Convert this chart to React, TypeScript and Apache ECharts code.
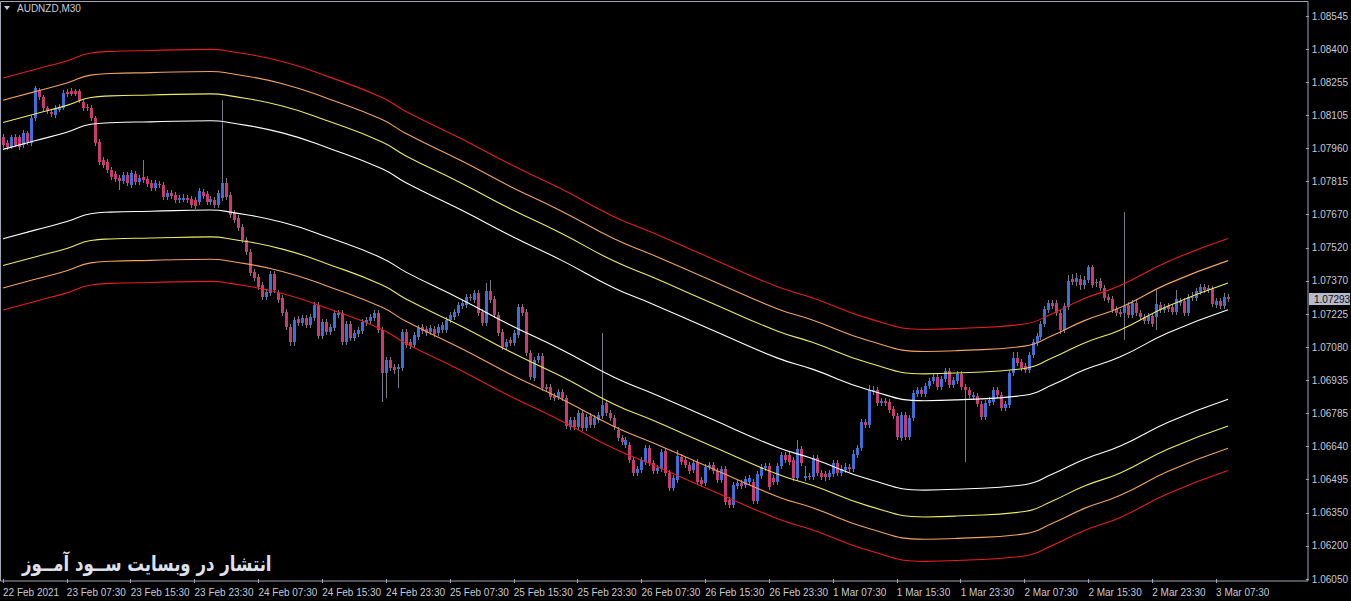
import React, { useEffect, useRef } from "react";
import * as echarts from "echarts";

// ---- Data (AUDNZD, M30) ----
const opens = [
1.08009,1.07983,1.07965,1.08009,1.08009,1.07974,1.08027,1.07983,1.08094,1.08217,
1.08186,1.08138,1.08120,1.08107,1.08129,1.08138,1.08208,1.08213,1.08213,1.08213,
1.08164,1.08142,1.08138,1.08094,1.07987,1.07907,1.07898,1.07863,1.07845,1.07828,
1.07814,1.07841,1.07796,1.07845,1.07809,1.07832,1.07823,1.07805,1.07783,1.07800,
1.07796,1.07743,1.07761,1.07752,1.07730,1.07730,1.07739,1.07734,1.07730,1.07721,
1.07765,1.07756,1.07721,1.07730,1.07708,1.07739,1.07805,1.07752,1.07672,1.07650,
1.07610,1.07552,1.07499,1.07410,1.07388,1.07353,1.07300,1.07318,1.07401,1.07318,
1.07296,1.07233,1.07167,1.07100,1.07202,1.07185,1.07207,1.07176,1.07207,1.07264,
1.07127,1.07189,1.07145,1.07162,1.07220,1.07229,1.07100,1.07180,1.07118,1.07136,
1.07149,1.07185,1.07194,1.07207,1.07229,1.07154,1.06963,1.07021,1.06989,1.06980,
1.06985,1.07145,1.07100,1.07087,1.07122,1.07167,1.07158,1.07145,1.07158,1.07140,
1.07154,1.07154,1.07198,1.07211,1.07229,1.07260,1.07264,1.07300,1.07287,1.07318,
1.07233,1.07185,1.07327,1.07291,1.07220,1.07145,1.07078,1.07109,1.07096,1.07131,
1.07256,1.07233,1.07052,1.06941,1.07021,1.07038,1.06901,1.06901,1.06861,1.06857,
1.06879,1.06852,1.06724,1.06755,1.06724,1.06786,1.06719,1.06772,1.06733,1.06755,
1.06772,1.06830,1.06786,1.06763,1.06710,1.06675,1.06644,1.06644,1.06577,1.06520,
1.06533,1.06568,1.06631,1.06564,1.06529,1.06537,1.06617,1.06520,1.06453,1.06489,
1.06591,1.06577,1.06555,1.06533,1.06568,1.06489,1.06476,1.06546,1.06555,1.06529,
1.06489,1.06537,1.06400,1.06378,1.06462,1.06476,1.06467,1.06480,1.06480,1.06396,
1.06506,1.06542,1.06550,1.06498,1.06480,1.06550,1.06599,1.06599,1.06577,1.06498,
1.06626,1.06498,1.06506,1.06502,1.06586,1.06520,1.06515,1.06502,1.06515,1.06564,
1.06520,1.06533,1.06546,1.06537,1.06599,1.06631,1.06746,1.06733,1.06879,1.06888,
1.06830,1.06839,1.06834,1.06803,1.06772,1.06675,1.06777,1.06679,1.06763,1.06870,
1.06888,1.06870,1.06905,1.06928,1.06945,1.06901,1.06936,1.06972,1.06910,1.06928,
1.06958,1.06901,1.06888,1.06857,1.06861,1.06826,1.06768,1.06830,1.06834,1.06888,
1.06866,1.06808,1.06821,1.06963,1.07030,1.07012,1.06994,1.06976,1.07043,1.07096,
1.07122,1.07180,1.07242,1.07273,1.07273,1.07229,1.07154,1.07256,1.07379,1.07366,
1.07379,1.07353,1.07375,1.07433,1.07362,1.07371,1.07340,1.07300,1.07291,1.07247,
1.07233,1.07229,1.07264,1.07220,1.07273,1.07229,1.07211,1.07194,1.07216,1.07211,
1.07264,1.07242,1.07260,1.07256,1.07233,1.07273,1.07282,1.07229,1.07296,1.07296,
1.07322,1.07344,1.07331,1.07335,1.07264,1.07282,1.07260,1.07300,
];
const highs = [
1.08022,1.07996,1.08018,1.08022,1.08018,1.08040,1.08036,1.08107,1.08235,1.08227,
1.08195,1.08146,1.08133,1.08151,1.08155,1.08217,1.08222,1.08227,1.08222,1.08222,
1.08178,1.08155,1.08151,1.08103,1.08000,1.07920,1.07911,1.07876,1.07859,1.07841,
1.07854,1.07854,1.07863,1.07859,1.07841,1.07907,1.07836,1.07818,1.07818,1.07814,
1.07809,1.07774,1.07774,1.07765,1.07752,1.07756,1.07752,1.07747,1.07743,1.07783,
1.07778,1.07770,1.07747,1.07743,1.07774,1.08173,1.07828,1.07765,1.07685,1.07663,
1.07623,1.07566,1.07512,1.07424,1.07401,1.07366,1.07335,1.07415,1.07415,1.07331,
1.07309,1.07247,1.07180,1.07211,1.07216,1.07220,1.07220,1.07224,1.07278,1.07278,
1.07202,1.07202,1.07180,1.07242,1.07242,1.07242,1.07194,1.07194,1.07154,1.07167,
1.07202,1.07211,1.07224,1.07242,1.07242,1.07167,1.07034,1.07034,1.07003,1.07003,
1.07158,1.07158,1.07113,1.07145,1.07176,1.07180,1.07171,1.07176,1.07171,1.07180,
1.07189,1.07211,1.07233,1.07247,1.07278,1.07287,1.07313,1.07313,1.07331,1.07331,
1.07247,1.07362,1.07375,1.07304,1.07233,1.07158,1.07113,1.07122,1.07154,1.07269,
1.07269,1.07247,1.07065,1.07034,1.07052,1.07052,1.06914,1.06914,1.06875,1.06892,
1.06892,1.06866,1.06768,1.06768,1.06799,1.06799,1.06781,1.06786,1.06777,1.06790,
1.07140,1.06843,1.06799,1.06777,1.06724,1.06688,1.06679,1.06657,1.06591,1.06550,
1.06591,1.06644,1.06644,1.06577,1.06555,1.06626,1.06631,1.06533,1.06511,1.06622,
1.06604,1.06591,1.06568,1.06577,1.06582,1.06502,1.06560,1.06568,1.06568,1.06542,
1.06550,1.06550,1.06413,1.06480,1.06489,1.06489,1.06506,1.06511,1.06493,1.06529,
1.06560,1.06564,1.06564,1.06511,1.06564,1.06613,1.06613,1.06613,1.06591,1.06666,
1.06640,1.06550,1.06520,1.06599,1.06599,1.06533,1.06529,1.06533,1.06577,1.06577,
1.06555,1.06564,1.06560,1.06622,1.06644,1.06759,1.06759,1.06910,1.06905,1.06901,
1.06852,1.06852,1.06848,1.06817,1.06786,1.06790,1.06790,1.06777,1.06888,1.06901,
1.06901,1.06919,1.06941,1.06958,1.06958,1.06949,1.06985,1.06985,1.06945,1.06972,
1.06972,1.06914,1.06901,1.06879,1.06875,1.06839,1.06843,1.06857,1.06901,1.06901,
1.06879,1.06839,1.06976,1.07056,1.07056,1.07025,1.07008,1.07056,1.07113,1.07140,
1.07194,1.07260,1.07287,1.07287,1.07287,1.07242,1.07273,1.07397,1.07401,1.07406,
1.07397,1.07393,1.07441,1.07441,1.07379,1.07384,1.07353,1.07313,1.07304,1.07260,
1.07247,1.07676,1.07278,1.07287,1.07287,1.07242,1.07224,1.07229,1.07229,1.07331,
1.07278,1.07269,1.07273,1.07269,1.07331,1.07296,1.07296,1.07313,1.07322,1.07340,
1.07357,1.07357,1.07353,1.07349,1.07296,1.07296,1.07318,1.07313,
];
const lows = [
1.07961,1.07951,1.07956,1.07965,1.07951,1.07961,1.07974,1.07969,1.08080,1.08173,
1.08125,1.08111,1.08098,1.08094,1.08120,1.08129,1.08186,1.08190,1.08190,1.08160,
1.08125,1.08125,1.08080,1.07969,1.07885,1.07872,1.07850,1.07818,1.07809,1.07774,
1.07800,1.07791,1.07783,1.07796,1.07796,1.07805,1.07787,1.07770,1.07770,1.07783,
1.07730,1.07730,1.07734,1.07717,1.07717,1.07721,1.07717,1.07694,1.07690,1.07708,
1.07734,1.07708,1.07708,1.07694,1.07694,1.07725,1.07730,1.07650,1.07628,1.07593,
1.07539,1.07486,1.07393,1.07371,1.07331,1.07287,1.07287,1.07304,1.07318,1.07273,
1.07216,1.07154,1.07082,1.07082,1.07171,1.07171,1.07162,1.07162,1.07194,1.07113,
1.07113,1.07132,1.07132,1.07149,1.07207,1.07087,1.07087,1.07105,1.07105,1.07122,
1.07136,1.07171,1.07180,1.07194,1.07140,1.06834,1.06852,1.06972,1.06958,1.06897,
1.06972,1.07074,1.07069,1.07074,1.07109,1.07136,1.07127,1.07132,1.07122,1.07127,
1.07140,1.07140,1.07185,1.07198,1.07216,1.07247,1.07251,1.07282,1.07273,1.07216,
1.07171,1.07171,1.07273,1.07207,1.07127,1.07065,1.07065,1.07082,1.07082,1.07118,
1.07216,1.07038,1.06932,1.06928,1.07008,1.06884,1.06879,1.06843,1.06839,1.06843,
1.06839,1.06715,1.06710,1.06710,1.06710,1.06706,1.06706,1.06719,1.06719,1.06741,
1.06759,1.06772,1.06750,1.06710,1.06662,1.06644,1.06631,1.06564,1.06506,1.06506,
1.06520,1.06555,1.06550,1.06515,1.06515,1.06524,1.06506,1.06440,1.06440,1.06476,
1.06555,1.06542,1.06515,1.06520,1.06467,1.06458,1.06462,1.06533,1.06515,1.06476,
1.06476,1.06378,1.06365,1.06365,1.06449,1.06449,1.06453,1.06467,1.06382,1.06382,
1.06493,1.06529,1.06444,1.06467,1.06467,1.06537,1.06564,1.06555,1.06484,1.06484,
1.06550,1.06484,1.06489,1.06489,1.06506,1.06489,1.06484,1.06489,1.06502,1.06506,
1.06506,1.06520,1.06524,1.06524,1.06586,1.06617,1.06719,1.06719,1.06866,1.06817,
1.06817,1.06817,1.06786,1.06759,1.06666,1.06662,1.06666,1.06666,1.06750,1.06857,
1.06857,1.06857,1.06892,1.06914,1.06888,1.06888,1.06923,1.06897,1.06897,1.06914,
1.06888,1.06568,1.06852,1.06843,1.06812,1.06755,1.06755,1.06817,1.06821,1.06852,
1.06795,1.06795,1.06808,1.06949,1.06994,1.06972,1.06963,1.06963,1.07030,1.07082,
1.07109,1.07167,1.07229,1.07247,1.07216,1.07136,1.07140,1.07242,1.07353,1.07349,
1.07331,1.07335,1.07362,1.07340,1.07344,1.07327,1.07282,1.07273,1.07229,1.07216,
1.07211,1.07109,1.07207,1.07207,1.07216,1.07198,1.07180,1.07180,1.07167,1.07154,
1.07229,1.07229,1.07233,1.07220,1.07220,1.07260,1.07216,1.07216,1.07282,1.07282,
1.07309,1.07318,1.07318,1.07256,1.07251,1.07247,1.07247,1.07278,
];
const closes = [
1.07974,1.07965,1.08009,1.07974,1.07965,1.08027,1.07987,1.08094,1.08227,1.08186,
1.08138,1.08125,1.08111,1.08138,1.08142,1.08204,1.08199,1.08199,1.08199,1.08169,
1.08138,1.08138,1.08094,1.07983,1.07898,1.07885,1.07863,1.07832,1.07823,1.07814,
1.07841,1.07805,1.07850,1.07809,1.07828,1.07818,1.07800,1.07783,1.07805,1.07796,
1.07743,1.07761,1.07747,1.07730,1.07739,1.07739,1.07730,1.07708,1.07703,1.07770,
1.07747,1.07721,1.07734,1.07708,1.07761,1.07805,1.07743,1.07663,1.07641,1.07606,
1.07552,1.07499,1.07406,1.07384,1.07344,1.07300,1.07322,1.07401,1.07331,1.07287,
1.07229,1.07167,1.07100,1.07198,1.07185,1.07207,1.07176,1.07211,1.07264,1.07127,
1.07189,1.07145,1.07167,1.07229,1.07229,1.07100,1.07180,1.07118,1.07140,1.07154,
1.07189,1.07198,1.07211,1.07229,1.07154,1.06963,1.07021,1.06985,1.06976,1.06989,
1.07145,1.07087,1.07082,1.07131,1.07162,1.07149,1.07140,1.07162,1.07136,1.07167,
1.07176,1.07198,1.07220,1.07233,1.07264,1.07273,1.07300,1.07296,1.07318,1.07229,
1.07185,1.07327,1.07287,1.07220,1.07140,1.07078,1.07100,1.07096,1.07140,1.07256,
1.07229,1.07052,1.06945,1.07021,1.07038,1.06897,1.06892,1.06857,1.06852,1.06879,
1.06852,1.06728,1.06755,1.06724,1.06786,1.06719,1.06768,1.06733,1.06763,1.06777,
1.06821,1.06786,1.06763,1.06724,1.06675,1.06657,1.06666,1.06577,1.06520,1.06537,
1.06577,1.06631,1.06564,1.06529,1.06542,1.06613,1.06520,1.06453,1.06498,1.06595,
1.06568,1.06555,1.06529,1.06564,1.06480,1.06471,1.06546,1.06555,1.06529,1.06489,
1.06537,1.06391,1.06378,1.06467,1.06476,1.06462,1.06493,1.06498,1.06396,1.06515,
1.06546,1.06550,1.06458,1.06480,1.06550,1.06599,1.06577,1.06568,1.06498,1.06626,
1.06564,1.06506,1.06502,1.06586,1.06520,1.06502,1.06502,1.06520,1.06564,1.06520,
1.06537,1.06546,1.06537,1.06604,1.06631,1.06746,1.06733,1.06888,1.06888,1.06830,
1.06839,1.06830,1.06799,1.06772,1.06679,1.06777,1.06679,1.06763,1.06875,1.06888,
1.06870,1.06905,1.06928,1.06945,1.06901,1.06936,1.06972,1.06910,1.06932,1.06958,
1.06901,1.06888,1.06866,1.06866,1.06826,1.06768,1.06830,1.06843,1.06888,1.06866,
1.06808,1.06826,1.06963,1.07030,1.07008,1.06985,1.06976,1.07043,1.07100,1.07127,
1.07180,1.07247,1.07273,1.07260,1.07229,1.07154,1.07260,1.07371,1.07366,1.07384,
1.07353,1.07375,1.07433,1.07353,1.07366,1.07340,1.07296,1.07287,1.07242,1.07229,
1.07224,1.07260,1.07220,1.07273,1.07229,1.07211,1.07194,1.07216,1.07180,1.07269,
1.07242,1.07256,1.07247,1.07233,1.07291,1.07282,1.07229,1.07300,1.07300,1.07327,
1.07344,1.07331,1.07340,1.07269,1.07282,1.07260,1.07300,1.07293,
];

// Moving average (centre of the envelopes), read at these bars
const maBars = [0, 8, 16, 22, 27, 37, 52, 57, 70, 82, 95, 101, 115, 127, 140, 153, 163, 177, 194, 203, 217, 231, 239, 256, 263, 271, 280, 292, 307];
const maValues = [1.07756, 1.07794, 1.07832, 1.07867, 1.07874, 1.07878, 1.07883, 1.07874, 1.07829, 1.07759, 1.07670, 1.07608, 1.07486, 1.07375, 1.07264, 1.07143, 1.07069, 1.06961, 1.06832, 1.06781, 1.06690, 1.06642, 1.06646, 1.06666, 1.06713, 1.06779, 1.06837, 1.06943, 1.07045];
const bandOffsets = [0.00198, 0.00317, 0.00416, 0.00514];
const bandColors = ["#ffffff", "#ecec62", "#f2a35e", "#e51e1e"];

const yTickLabels = ["1.06050", "1.06200", "1.06350", "1.06495", "1.06640", "1.06785", "1.06935", "1.07080", "1.07225", "1.07370", "1.07520", "1.07670", "1.07815", "1.07960", "1.08105", "1.08255", "1.08400", "1.08545"];
const xTickLabels = ["22 Feb 2021", "23 Feb 07:30", "23 Feb 15:30", "23 Feb 23:30", "24 Feb 07:30", "24 Feb 15:30", "24 Feb 23:30", "25 Feb 07:30", "25 Feb 15:30", "25 Feb 23:30", "26 Feb 07:30", "26 Feb 15:30", "26 Feb 23:30", "1 Mar 07:30", "1 Mar 15:30", "1 Mar 23:30", "2 Mar 07:30", "2 Mar 15:30", "2 Mar 23:30", "3 Mar 07:30"];
const BARS_PER_LABEL = 16;
const SLOT_COUNT = 327; // bars plus the empty shift area on the right
const LAST_PRICE = 1.07293;
const PLOT_TOP_PRICE = 1.086115;
const SYMBOL = "AUDNZD,M30";
const WATERMARK = "انتشار در وبسایت ســود آمــوز";

const Y_BASE = 1.0605;
const STEP = (1.08545 - Y_BASE) / (yTickLabels.length - 1);
const toAxis = (p: number) => (p - Y_BASE) / STEP;

const FONT = '"Liberation Sans", Arial, sans-serif';
const TEXT_COLOR = "#c6cad6";
const FRAME_COLOR = "#a2a6b6";
const BULL = "#3d6fd8";
const BEAR = "#c93a70";
const WICK = "#7a7a84";

export default function App() {
  const ref = useRef<HTMLDivElement>(null);

  useEffect(() => {
    document.body.style.margin = "0";
    document.body.style.background = "#000";
    if (!ref.current) return;
    const chart = echarts.init(ref.current, null, { renderer: "svg" });

    const slots = Array.from({ length: SLOT_COUNT }, (_, i) => String(i));
    const candleData = opens.map((o, i) => [i, toAxis(o), toAxis(closes[i]), toAxis(lows[i]), toAxis(highs[i])]);

    const maLine: (number | null)[] = opens.map(() => null);
    maBars.forEach((b, k) => { maLine[b] = maValues[k]; });

    const labelOn = (i: number) => i % BARS_PER_LABEL === 0 && i / BARS_PER_LABEL < xTickLabels.length;

    const bandSeries: any[] = [];
    bandOffsets.forEach((off, k) => {
      [1, -1].forEach((sign) => {
        bandSeries.push({
          type: "line",
          data: maLine.map((v) => (v == null ? null : toAxis(v + sign * off))),
          connectNulls: true,
          smooth: true,
          symbol: "none",
          showSymbol: false,
          silent: true,
          z: 3,
          lineStyle: { color: bandColors[k], width: 1.1 },
        });
      });
    });

    const staticGraphics: any[] = [
      { type: "rect", silent: true, z: 100, shape: { x: 0.5, y: 1.5, width: 1307.5, height: 579.5 }, style: { fill: "none", stroke: FRAME_COLOR, lineWidth: 1 } },
      { type: "polygon", silent: true, z: 100, shape: { points: [[4, 6], [10, 6], [7, 10]] }, style: { fill: TEXT_COLOR } },
      { type: "text", silent: true, z: 100, x: 17, y: 8, style: { text: SYMBOL, fill: TEXT_COLOR, font: `10px ${FONT}`, textVerticalAlign: "middle", textAlign: "left" } },
      { type: "text", silent: true, z: 100, x: 22, y: 563, scaleX: 0.79, style: { text: WATERMARK, fill: "#dde1ec", font: 'bold 21px "DejaVu Sans", sans-serif', textVerticalAlign: "middle", textAlign: "left" } },
    ];

    chart.setOption({
      animation: false,
      backgroundColor: "#000",
      grid: { left: 0, right: 43, top: 1, bottom: 22, containLabel: false },
      xAxis: {
        type: "category",
        data: slots,
        boundaryGap: true,
        offset: 2,
        axisLine: { show: false },
        axisTick: { show: true, alignWithLabel: true, interval: (i: number) => labelOn(i), length: 4, lineStyle: { color: FRAME_COLOR } },
        axisLabel: {
          interval: (i: number) => labelOn(i),
          formatter: (_v: string, i: number) => xTickLabels[i / BARS_PER_LABEL] ?? "",
          align: "left",
          color: TEXT_COLOR,
          fontSize: 10,
          fontFamily: FONT,
          margin: 6,
        },
        splitLine: { show: false },
      },
      yAxis: {
        type: "value",
        position: "right",
        min: 0,
        max: toAxis(PLOT_TOP_PRICE),
        interval: 1,
        axisLine: { show: false },
        axisTick: { show: true, length: 3, lineStyle: { color: FRAME_COLOR } },
        axisLabel: {
          formatter: (v: number) => (Math.abs(v - Math.round(v)) < 0.001 ? yTickLabels[Math.round(v)] ?? "" : ""),
          color: TEXT_COLOR,
          fontSize: 10,
          fontFamily: FONT,
          margin: 6,
          showMaxLabel: false,
        },
        splitLine: { show: false },
      },
      series: [
        {
          type: "custom",
          z: 2,
          data: candleData,
          encode: { x: 0, y: [1, 2, 3, 4] },
          renderItem: (_params: any, api: any) => {
            const i = api.value(0);
            const o = api.value(1), c = api.value(2), l = api.value(3), h = api.value(4);
            const pO = api.coord([i, o]);
            const pC = api.coord([i, c]);
            const pL = api.coord([i, l]);
            const pH = api.coord([i, h]);
            const cx = Math.round(pO[0]);
            const top = Math.round(Math.min(pO[1], pC[1]));
            const bot = Math.round(Math.max(pO[1], pC[1]));
            const bull = c >= o;
            return {
              type: "group",
              children: [
                { type: "line", shape: { x1: cx + 0.5, y1: Math.round(pH[1]), x2: cx + 0.5, y2: Math.round(pL[1]) }, style: { stroke: WICK, lineWidth: 1 } },
                { type: "rect", shape: { x: cx - 1, y: top, width: 3, height: Math.max(1, bot - top) }, style: { fill: bull ? BULL : BEAR } },
              ],
            };
          },
        },
        ...bandSeries,
      ],
      graphic: staticGraphics,
    });

    // Current price box on the price scale, positioned through the y axis scale
    const py = chart.convertToPixel({ yAxisIndex: 0 }, toAxis(LAST_PRICE)) as number;
    if (typeof py === "number" && isFinite(py)) {
      chart.setOption({
        graphic: [
          ...staticGraphics,
          { type: "rect", silent: true, z: 101, shape: { x: 1309, y: Math.round(py) - 6, width: 41, height: 12 }, style: { fill: "#b6bacb" } },
          { type: "text", silent: true, z: 102, x: 1314, y: Math.round(py), style: { text: LAST_PRICE.toFixed(5), fill: "#0a0a14", font: `10px ${FONT}`, textVerticalAlign: "middle", textAlign: "left" } },
        ],
      }, { replaceMerge: ["graphic"] });
    }

    return () => chart.dispose();
  }, []);

  return <div ref={ref} style={{ width: 1351, height: 601, background: "#000" }} />;
}
